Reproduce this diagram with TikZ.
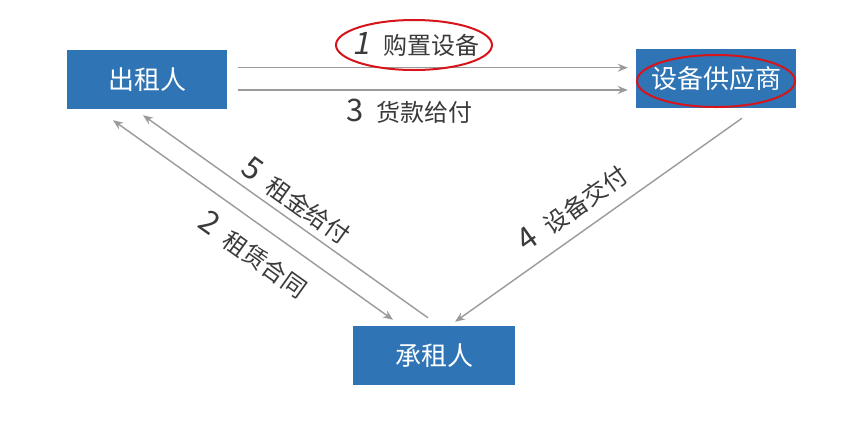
\documentclass[tikz,border=0pt]{standalone}
\usepackage{fontspec}
\setmainfont{Noto Sans CJK SC}
\newfontfamily\slantfont[FakeSlant=0.2]{Noto Sans CJK SC}
\usetikzlibrary{arrows.meta,positioning,calc}
\definecolor{boxblue}{HTML}{2F75B5}
\definecolor{flowgray}{HTML}{9A9A9A}
\definecolor{textgray}{HTML}{3A3A3A}
\definecolor{ringred}{HTML}{D7141A}
% step number in front of a label
\newcommand{\stepno}[1]{{\fontsize{31}{31}\selectfont #1}\hspace{13pt}}

\begin{document}
\begin{tikzpicture}[
  x=1pt, y=-1pt,
  >={Stealth[length=10pt,width=8pt]},
  party/.style={rectangle, fill=boxblue, text=white, inner sep=0pt, minimum width=160pt, minimum height=59pt, font=\fontsize{26}{26}\selectfont},
  flow/.style={draw=flowgray, line width=1.4pt},
  lbl/.style={text=textgray, inner sep=1pt, font=\fontsize{24}{24}\selectfont},
  redring/.style={draw=ringred, line width=2pt}
]
\useasboundingbox (0,0) rectangle (862,421);

% parties
\node[party] (lessor) at (147,79.5) {出租人};
\node[party] (supplier) at (716,78.5) {设备供应商};
\node[party, minimum width=162pt] (lessee) at (434,355.5) {承租人};

% top: lessor -> supplier
\draw[flow, ->, shorten <=11pt, shorten >=8pt] ([yshift=11.8pt]lessor.east) -- ([yshift=11.8pt]lessor.east -| supplier.west)
  node[lbl, pos=0.462, yshift=23.7pt] (buy) {{\fontsize{31}{31}\slantfont 1}\hspace{13pt}购置设备};
\draw[flow, ->, shorten <=11pt, shorten >=8pt] ([yshift=-10.5pt]lessor.east) -- ([yshift=-10.5pt]lessor.east -| supplier.west)
  node[lbl, pos=0.447, yshift=-21pt] (pay) {\stepno{3}货款给付};

% left: lessor <-> lessee
\coordinate (c2s) at ($(lessor.south)+(-34,11)$);
\coordinate (c2e) at ($(lessee.north)+(-41,-6)$);
\draw[flow, <->] (c2s) -- (c2e);
\node[lbl, rotate=-35.5] (contract) at ($(c2s)!0.56!(c2e)!28pt!-90:(c2e)$) {\stepno{2}租赁合同};

\coordinate (c5s) at ($(lessee.north)+(-6,-8)$);
\coordinate (c5e) at ($(lessor.south)+(-4,6)$);
\draw[flow, ->] (c5s) -- (c5e);
\node[lbl, rotate=-35.5] (rent) at ($(c5s)!0.50!(c5e)!19pt!-90:(c5e)$) {\stepno{5}租金给付};

% right: supplier -> lessee
\coordinate (c4s) at ($(supplier.south)+(26,10)$);
\coordinate (c4e) at ($(lessee.north)+(21,-4)$);
\draw[flow, ->] (c4s) -- (c4e);
\node[lbl, rotate=35.4] (deliver) at ($(c4s)!0.54!(c4e)!25pt!-90:(c4e)$) {\stepno{4}设备交付};

% red highlights
\draw[redring] ($(buy.center)+(-2,1)$) ellipse [x radius=78pt, y radius=25pt];
\draw[redring] ($(supplier.center)+(0,2.5)$) ellipse [x radius=79pt, y radius=26pt];
\end{tikzpicture}
\end{document}
